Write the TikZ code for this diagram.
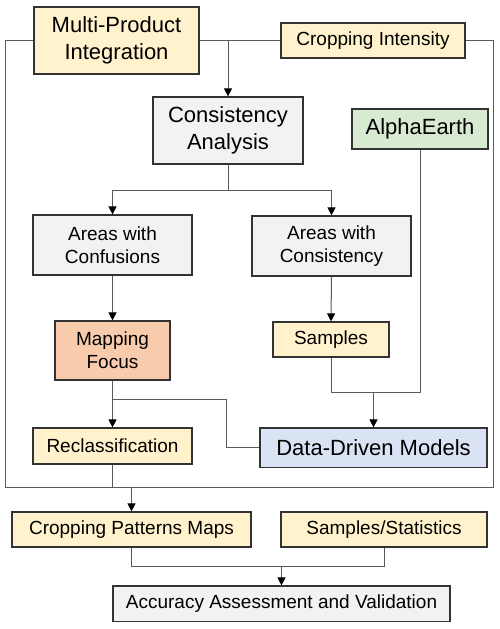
\documentclass[tikz,border=0pt]{standalone}
\usepackage{fontspec}
\setmainfont{Liberation Sans}
\usetikzlibrary{arrows.meta}
\definecolor{cyellow}{HTML}{FFF2CC}
\definecolor{cgray}{HTML}{F2F2F2}
\definecolor{cgreen}{HTML}{D9EAD3}
\definecolor{csalmon}{HTML}{F8CBAD}
\definecolor{cblue}{HTML}{DAE3F3}
\definecolor{cborder}{HTML}{333333}
\definecolor{cline}{HTML}{5A5A5A}
\tikzset{
  box/.style={draw=cborder, line width=1.2pt, rectangle, inner sep=0pt, align=center, text=black},
  big/.style={font=\fontsize{22}{27.5}\selectfont},
  small/.style={font=\fontsize{19}{22.8}\selectfont},
  conn/.style={draw=cline, line width=1pt},
  arr/.style={conn, -{Triangle[length=8pt,width=8pt,color=black]}},
}
\begin{document}
\begin{tikzpicture}[x=1pt,y=-1pt]
\useasboundingbox (0,0) rectangle (500,629);
% nodes
\node[box,big,fill=cyellow,minimum width=165pt,minimum height=67pt] (mpi) at (116.5,40.5) {Multi-Product\\Integration};
\node[box,small,fill=cyellow,minimum width=184pt,minimum height=35pt] (ci) at (373,40.5) {Cropping Intensity};
\node[box,big,fill=cgray,minimum width=150pt,minimum height=67pt] (ca) at (228,130.5) {Consistency\\Analysis};
\node[box,big,fill=cgreen,minimum width=136pt,minimum height=40pt] (ae) at (420,129) {AlphaEarth};
\node[box,small,fill=cgray,minimum width=159pt,minimum height=60pt] (aconf) at (112.5,245) {Areas with\\Confusions};
\node[box,small,fill=cgray,minimum width=159pt,minimum height=60pt] (acons) at (331.5,246) {Areas with\\Consistency};
\node[box,small,fill=csalmon,minimum width=115pt,minimum height=59pt] (mf) at (112.5,350.5) {Mapping\\Focus};
\node[box,small,fill=cyellow,minimum width=116pt,minimum height=35pt] (samp) at (331,339.5) {Samples};
\node[box,small,fill=cyellow,minimum width=159pt,minimum height=36pt] (rec) at (112.5,446) {Reclassification};
\node[box,big,fill=cblue,minimum width=227pt,minimum height=39.5pt] (ddm) at (373.5,447.75) {Data-Driven Models};
\node[box,small,fill=cyellow,minimum width=239pt,minimum height=35pt] (cpm) at (131.5,529.5) {Cropping Patterns Maps};
\node[box,small,fill=cyellow,minimum width=206pt,minimum height=35pt] (ss) at (384,529.5) {Samples/Statistics};
\node[box,small,fill=cgray,minimum width=337pt,minimum height=35.5pt] (aav) at (281.5,603.75) {Accuracy Assessment and Validation};
% coordinates
\coordinate (ftl) at (5,40.5);
\coordinate (fbl) at (5,487);
\coordinate (fbr) at (493,487);
\coordinate (ftr) at (493,40.5);
\coordinate (ja) at (228,40.5);
\coordinate (jb) at (228,190);
\coordinate (jc) at (112.5,399);
\coordinate (jd) at (226,399);
\coordinate (je) at (226,447.75);
\coordinate (jf) at (331,392);
\coordinate (jg) at (420,392);
\coordinate (jh) at (373.5,392);
\coordinate (ji) at (112.5,487);
\coordinate (jj) at (131.5,487);
\coordinate (jk) at (131.5,566);
\coordinate (jl) at (384,566);
\coordinate (jm) at (281.5,566);
% frame
\draw[conn] (mpi.west) -- (ftl) -- (fbl) -- (fbr) -- (ftr) -- (ci.east);
\draw[conn] (mpi.east) -- (ci.west);
% connectors
\draw[arr] (ja) -- (ca.north);
\draw[conn] (ca.south) -- (jb);
\draw[arr] (jb) -| (aconf.north);
\draw[arr] (jb) -| (acons.north);
\draw[arr] (aconf.south) -- (mf.north);
\draw[arr] (acons.south) -- (samp.north);
\draw[arr] (mf.south) -- (rec.north);
\draw[conn] (jc) -- (jd) -- (je) -- (ddm.west);
\draw[conn] (samp.south) -- (jf) -- (jg) -- (ae.south);
\draw[arr] (jh) -- (ddm.north);
\draw[conn] (rec.south) -- (ji);
\draw[arr] (jj) -- (cpm.north);
\draw[conn] (cpm.south) -- (jk) -- (jl) -- (ss.south);
\draw[arr] (jm) -- (aav.north);
\end{tikzpicture}
\end{document}
